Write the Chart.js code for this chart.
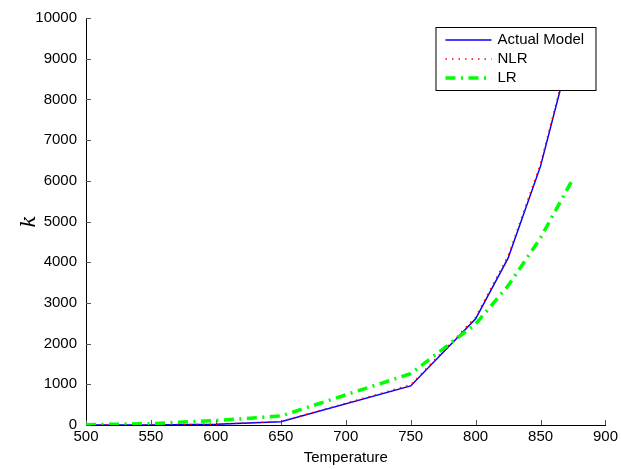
<!DOCTYPE html>
<html>
<head>
<meta charset="utf-8">
<script src="https://cdn.jsdelivr.net/npm/chart.js@4"></script>
<style>
  body { margin: 0; background: #fff; }
  #wrap { width: 621px; height: 469px; }
</style>
</head>
<body>
<div id="wrap"><canvas id="kChart" width="621" height="469"></canvas></div>
<script>
// Data
const temperatures = [500, 550, 600, 650, 750, 800, 825, 850, 875];
const actualModel = [0, 3, 17, 80, 960, 2610, 4100, 6360, 9450];
const nlrValues = [0, 4, 19, 85, 985, 2650, 4150, 6420, 9520];
const lrValues = [5, 35, 110, 220, 1260, 2480, 3420, 4600, 6050];

const xTicks = [500, 550, 600, 650, 700, 750, 800, 850, 900];
const yTicks = [0, 1000, 2000, 3000, 4000, 5000, 6000, 7000, 8000, 9000, 10000];

const seriesNames = ['Actual Model', 'NLR', 'LR'];

const toPoints = (vals) => temperatures.map((t, i) => ({ x: t, y: vals[i] }));

const fontFamily = "'Liberation Sans', Arial, Helvetica, sans-serif";

// inward tick marks (matlab style)
const innerTicks = {
    id: 'innerTicks',
    beforeDatasetsDraw(chart) {
        const { ctx, chartArea, scales } = chart;
        ctx.save();
        ctx.strokeStyle = '#555';
        ctx.lineWidth = 1;
        ctx.beginPath();
        xTicks.forEach(v => {
            const px = Math.round(scales.x.getPixelForValue(v)) + 0.5;
            ctx.moveTo(px, chartArea.bottom);
            ctx.lineTo(px, chartArea.bottom - 5);
        });
        yTicks.forEach(v => {
            const py = Math.round(scales.y.getPixelForValue(v)) + 0.5;
            ctx.moveTo(chartArea.left, py);
            ctx.lineTo(chartArea.left + 5, py);
        });
        ctx.stroke();
        ctx.restore();
    }
};

// boxed legend in the top right corner
const boxLegend = {
    id: 'boxLegend',
    afterDraw(chart) {
        const { ctx, chartArea } = chart;
        const w = 160, h = 63;
        const x0 = chartArea.right - 10 - w;
        const y0 = chartArea.top + 9;
        ctx.save();
        ctx.fillStyle = '#fff';
        ctx.fillRect(x0, y0, w, h);
        ctx.strokeStyle = '#000';
        ctx.lineWidth = 1;
        ctx.strokeRect(x0 + 0.5, y0 + 0.5, w, h);
        ctx.font = '15px ' + fontFamily;
        ctx.textBaseline = 'middle';
        chart.data.datasets.forEach((ds, i) => {
            const y = y0 + 13 + i * 19;
            ctx.beginPath();
            ctx.setLineDash(ds.borderDash || []);
            ctx.strokeStyle = ds.borderColor;
            ctx.lineWidth = ds.borderWidth;
            ctx.moveTo(x0 + 10, y);
            ctx.lineTo(x0 + 56, y);
            ctx.stroke();
            ctx.setLineDash([]);
            ctx.fillStyle = '#000';
            ctx.fillText(ds.label, x0 + 62, y);
        });
        ctx.restore();
    }
};

const kConfig = {
    type: 'line',
    data: {
        datasets: [{
            label: seriesNames[0],
            data: toPoints(actualModel),
            borderColor: '#0000ff',
            borderWidth: 1.5,
            order: 3
        }, {
            label: seriesNames[1],
            data: toPoints(nlrValues),
            borderColor: '#ff0000',
            borderWidth: 1.5,
            borderDash: [1.5, 5],
            order: 2
        }, {
            label: seriesNames[2],
            data: toPoints(lrValues),
            borderColor: '#00ff00',
            borderWidth: 3.5,
            borderDash: [10, 5.5, 2, 5.5],
            order: 1
        }]
    },
    options: {
        responsive: false,
        animation: false,
        pointRadius: 0,
        tension: 0,
        layout: {
            padding: { top: 16, right: 14, left: 0, bottom: 0 }
        },
        plugins: {
            legend: { display: false },
            tooltip: { enabled: false }
        },
        scales: {
            x: {
                type: 'linear',
                min: 500,
                max: 900,
                afterFit: (scale) => { scale.height = 44; },
                afterBuildTicks: (scale) => { scale.ticks = xTicks.map(v => ({ value: v })); },
                ticks: {
                    color: '#000',
                    padding: 3,
                    maxRotation: 0,
                    callback: (v) => String(v),
                    font: { family: fontFamily, size: 15 }
                },
                grid: { drawOnChartArea: false, drawTicks: false },
                border: { color: '#000', width: 1 },
                title: {
                    display: true,
                    text: 'Temperature',
                    color: '#000',
                    padding: { top: 0, bottom: 2 },
                    font: { family: fontFamily, size: 15 }
                }
            },
            y: {
                min: 0,
                max: 10000,
                afterFit: (scale) => { scale.width = 86; },
                afterBuildTicks: (scale) => { scale.ticks = yTicks.map(v => ({ value: v })); },
                ticks: {
                    color: '#000',
                    padding: 9,
                    callback: (v) => String(v),
                    font: { family: fontFamily, size: 15 }
                },
                grid: { drawOnChartArea: false, drawTicks: false },
                border: { color: '#000', width: 1 },
                title: {
                    display: true,
                    text: 'k',
                    color: '#000',
                    padding: { top: 18, bottom: 0 },
                    font: { family: "'DejaVu Serif', 'Liberation Serif', serif", size: 20, style: 'italic' }
                }
            }
        }
    },
    plugins: [innerTicks, boxLegend]
};

const kChart = new Chart(document.getElementById('kChart'), kConfig);
</script>
</body>
</html>
